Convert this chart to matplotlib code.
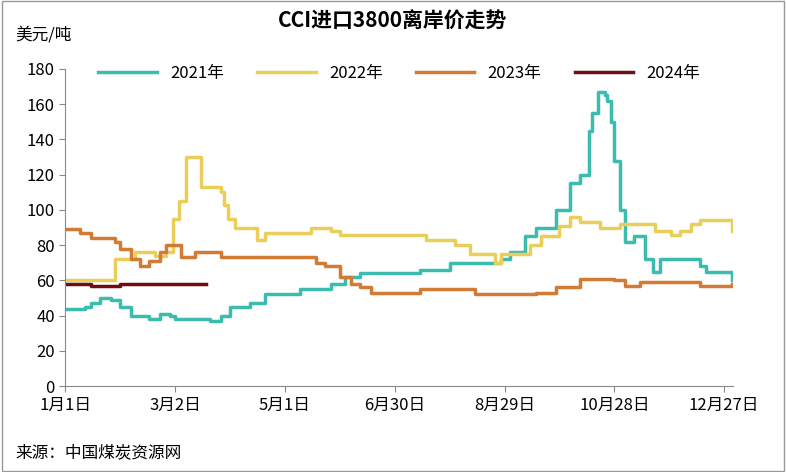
import matplotlib.pyplot as plt
from matplotlib.patches import Rectangle

plt.rcParams['font.family'] = ['Noto Sans CJK SC', 'DejaVu Sans']

# day of year -> price (USD/t)
d2021 = [0, 11, 14, 19, 25, 30, 36, 46, 52, 57, 60, 79, 85, 90, 101, 109, 128, 145, 153, 161, 183, 194, 210, 238, 243, 251, 257, 268, 276, 281, 286, 288, 291, 295, 296, 298, 300, 303, 306, 311, 317, 321, 325, 339, 347, 350, 362, 364]
v2021 = [44, 45, 47, 50, 49, 45, 40, 38, 41, 40, 38, 37, 40, 45, 47, 52, 55, 58, 62, 64, 64, 66, 70, 72, 76, 85, 90, 100, 115, 120, 145, 155, 167, 165, 162, 150, 128, 100, 82, 85, 72, 65, 72, 72, 68, 65, 65, 60]

d2022 = [0, 27, 38, 49, 55, 59, 62, 66, 74, 85, 87, 89, 93, 105, 109, 134, 145, 150, 197, 213, 221, 235, 238, 254, 260, 270, 276, 281, 292, 303, 322, 331, 336, 342, 347, 364]
v2022 = [60, 72, 76, 74, 76, 95, 105, 130, 113, 110, 103, 95, 90, 83, 87, 90, 88, 86, 83, 80, 75, 70, 75, 80, 85, 91, 96, 93, 90, 92, 88, 86, 88, 92, 94, 88]

d2023 = [0, 8, 14, 27, 30, 36, 41, 46, 52, 55, 63, 71, 85, 137, 142, 150, 156, 161, 167, 194, 224, 257, 268, 281, 300, 306, 314, 347, 364]
v2023 = [89, 87, 84, 82, 78, 72, 68, 71, 76, 80, 73, 76, 73, 70, 68, 62, 58, 56, 53, 55, 52, 53, 56, 61, 60, 57, 59, 57, 58]

d2024 = [0, 14, 30, 50, 77]
v2024 = [58, 57, 58, 58, 58]

tick_days = [0, 60, 120, 180, 240, 300, 360]
tick_labels = ['1月1日', '3月2日', '5月1日', '6月30日', '8月29日', '10月28日', '12月27日']

fig = plt.figure(figsize=(7.86, 4.72), dpi=100)
ax = fig.add_axes([0.083, 0.182, 0.85, 0.672])

ax.step(d2021, v2021, where='post', color='#3bbcae', lw=2.5, label='2021年')
ax.step(d2022, v2022, where='post', color='#e9cf5a', lw=2.5, label='2022年')
ax.step(d2023, v2023, where='post', color='#d27b34', lw=2.5, label='2023年')
ax.step(d2024, v2024, where='post', color='#6b0f12', lw=2.5, label='2024年')

ax.set_xlim(0, 365)
ax.set_ylim(0, 180)
ax.set_yticks(range(0, 181, 20))
ax.set_xticks(tick_days)
ax.set_xticklabels(tick_labels)
ax.tick_params(labelsize=12, length=4, direction='out', color='#888888')
for s in ['top', 'right']:
    ax.spines[s].set_visible(False)
for s in ['left', 'bottom']:
    ax.spines[s].set_color('#888888')

ax.legend(loc='upper center', bbox_to_anchor=(0.5, 1.06), ncol=4, frameon=False,
          fontsize=12, handlelength=3.5, columnspacing=2)

fig.text(0.5, 0.955, 'CCI进口3800离岸价走势', ha='center', va='center', fontsize=15, fontweight='bold')
fig.text(0.02, 0.925, '美元/吨', fontsize=12, va='center')
fig.text(0.02, 0.04, '来源：中国煤炭资源网', fontsize=12, va='center')
fig.patches.append(Rectangle((0.002, 0.003), 0.995, 0.994, transform=fig.transFigure,
                             fill=False, edgecolor='#999999', lw=1))

fig.savefig('out.png')
